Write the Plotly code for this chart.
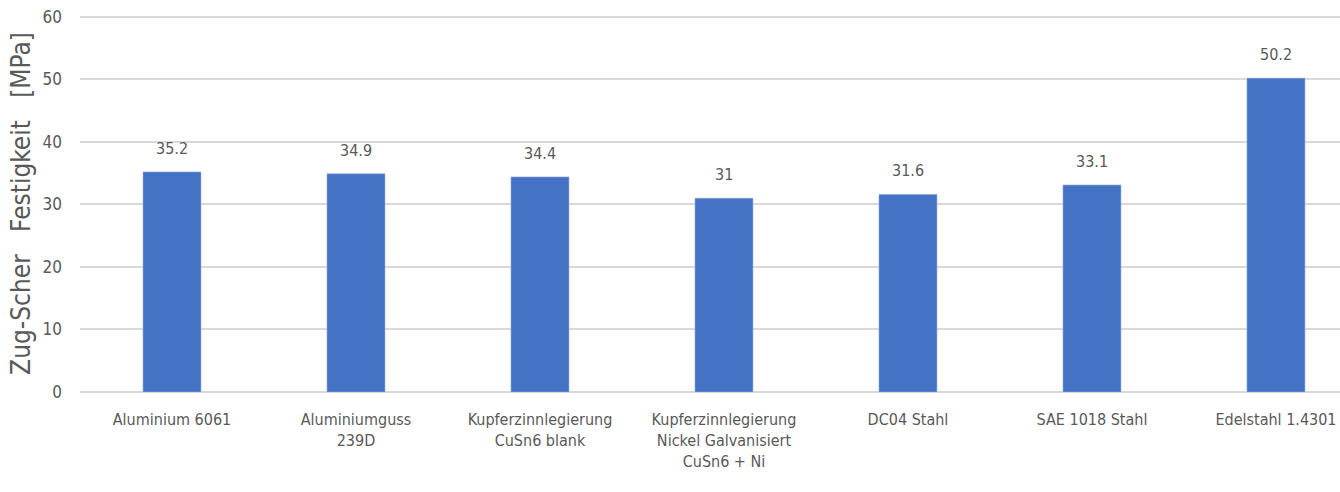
import plotly.graph_objects as go

# Zug-Scher Festigkeit je Werkstoff
categories = [
    "Aluminium 6061",
    "Aluminiumguss<br>239D",
    "Kupferzinnlegierung<br>CuSn6 blank",
    "Kupferzinnlegierung<br>Nickel Galvanisiert<br>CuSn6 + Ni",
    "DC04 Stahl",
    "SAE 1018 Stahl",
    "Edelstahl 1.4301",
]
strength_mpa = [35.2, 34.9, 34.4, 31, 31.6, 33.1, 50.2]
y_ticks = [0, 10, 20, 30, 40, 50, 60]

FONT = "Liberation Sans Narrow, DejaVu Sans Condensed, Arial Narrow, sans-serif"
GREY = "#595959"

fig = go.Figure(
    go.Bar(
        x=list(range(len(categories))),
        y=strength_mpa,
        marker=dict(color="#4472C4", line=dict(color="#8FAADC", width=0.6)),
        width=0.315,
        hoverinfo="skip",
    )
)

# value labels above each bar
for i, v in enumerate(strength_mpa):
    fig.add_annotation(
        x=i, y=v, text=f"{v:g}", showarrow=False,
        yanchor="bottom", yshift=12,
        font=dict(family=FONT, size=16, color=GREY),
    )

fig.update_layout(
    width=1340, height=492,
    margin=dict(l=80, r=0, t=15, b=100),
    paper_bgcolor="white", plot_bgcolor="white",
    showlegend=False,
    font=dict(family=FONT, size=15, color=GREY),
    xaxis=dict(
        tickmode="array",
        tickvals=list(range(len(categories))),
        ticktext=categories,
        range=[-0.5, 6.348],
        showgrid=False, zeroline=False, showline=False,
        ticks="", ticklen=0,
        ticklabelstandoff=16,
        tickfont=dict(family=FONT, size=16, color=GREY),
    ),
    yaxis=dict(
        range=[0, 60.3],
        tickvals=y_ticks,
        showgrid=True, gridcolor="#D9D9D9", gridwidth=1.5,
        zeroline=True, zerolinecolor="#D9D9D9", zerolinewidth=1.5,
        showline=False, ticks="",
        ticklabelstandoff=17,
        tickfont=dict(family=FONT, size=17, color=GREY),
        title=dict(
            text="Zug-Scher\u00a0\u00a0\u00a0Festigkeit\u00a0\u00a0\u00a0[MPa]",
            font=dict(family=FONT, size=26, color=GREY),
            standoff=4,
        ),
    ),
)

fig.write_html("out.html")
